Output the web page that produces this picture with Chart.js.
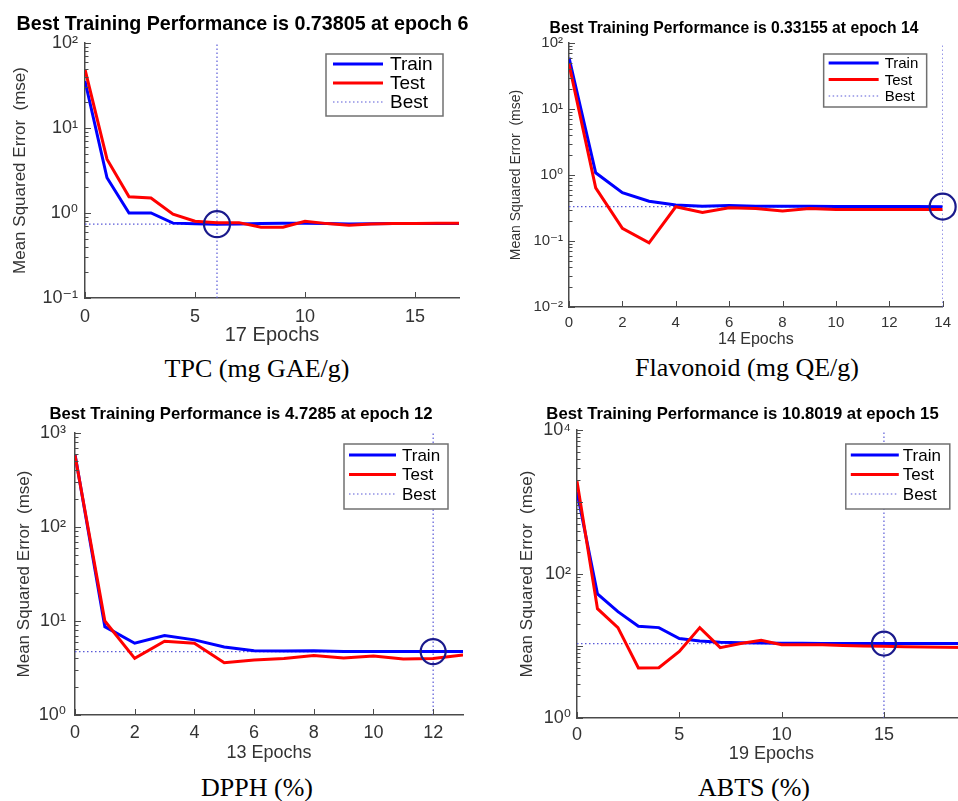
<!DOCTYPE html>
<html>
<head>
<meta charset="utf-8">
<script src="https://cdn.jsdelivr.net/npm/chart.js@4.4.1/dist/chart.umd.min.js"></script>
<style>
  html, body { margin: 0; padding: 0; background: #fff; }
  body { width: 958px; height: 801px; overflow: hidden; position: relative; }
  canvas { position: absolute; }
  .cap { position: absolute; width: 400px; text-align: center; font-family: 'Liberation Serif', 'Times New Roman', serif; font-size: 26px; line-height: 26px; color: #000; white-space: nowrap; }
</style>
</head>
<body>
<canvas id="c1" width="480" height="352" style="left:0px;top:0px;"></canvas>
<canvas id="c2" width="478" height="352" style="left:480px;top:0px;"></canvas>
<canvas id="c3" width="480" height="372" style="left:0px;top:395px;"></canvas>
<canvas id="c4" width="500" height="372" style="left:480px;top:395px;"></canvas>
<div class="cap" style="left:57px;top:356px;">TPC (mg GAE/g)</div>
<div class="cap" style="left:547px;top:355px;">Flavonoid (mg QE/g)</div>
<div class="cap" style="left:57px;top:775px;">DPPH (%)</div>
<div class="cap" style="left:554px;top:775px;">ABTS (%)</div>
<script>
// ---------------- DATA ----------------
const seriesNames = ['Train', 'Test', 'Best'];

// TPC (mg GAE/g): epochs 0..17
const tpcTrain = [35.7, 2.6, 1.0, 1.0, 0.76, 0.745, 0.738, 0.74, 0.75, 0.76, 0.76, 0.75, 0.74, 0.745, 0.75, 0.75, 0.75, 0.75];
const tpcTest  = [49, 4.3, 1.55, 1.5, 0.97, 0.80, 0.77, 0.77, 0.68, 0.68, 0.80, 0.75, 0.72, 0.74, 0.75, 0.75, 0.76, 0.76];
const tpcBestEpoch = 6;
const tpcBestValue = 0.73805;

// Flavonoid (mg QE/g): epochs 0..14
const flavTrain = [60, 1.08, 0.54, 0.40, 0.35, 0.335, 0.345, 0.335, 0.335, 0.335, 0.333, 0.333, 0.332, 0.332, 0.33155];
const flavTest  = [48, 0.64, 0.155, 0.094, 0.33, 0.27, 0.32, 0.31, 0.285, 0.31, 0.30, 0.30, 0.30, 0.30, 0.30];
const flavBestEpoch = 14;
const flavBestValue = 0.33155;

// DPPH (%): epochs 0..13
const dpphTrain = [593, 8.7, 5.8, 7.0, 6.3, 5.3, 4.83, 4.8, 4.82, 4.75, 4.75, 4.74, 4.7285, 4.73];
const dpphTest  = [580, 10, 4.0, 6.1, 5.8, 3.6, 3.85, 4.0, 4.3, 4.05, 4.25, 3.95, 4.0, 4.35];
const dpphBestEpoch = 12;
const dpphBestValue = 4.7285;

// ABTS (%): epochs 0..19
const abtsTrain = [1380, 53, 30, 18.8, 18, 12.7, 11.7, 11.3, 11.1, 11.0, 10.95, 10.9, 10.85, 10.85, 10.82, 10.8019, 10.8, 10.8, 10.8, 10.8];
const abtsTest  = [1940, 33, 18, 4.95, 5.0, 8.4, 18, 9.5, 10.8, 12, 10.4, 10.4, 10.4, 10.2, 10.0, 9.9, 9.8, 9.7, 9.6, 9.5];
const abtsBestEpoch = 15;
const abtsBestValue = 10.8019;

// titles / labels
const titles = [
  'Best Training Performance is 0.73805 at epoch 6',
  'Best Training Performance is 0.33155 at epoch 14',
  'Best Training Performance is 4.7285 at epoch 12',
  'Best Training Performance is 10.8019 at epoch 15'
];
const xTitles = ['17 Epochs', '14 Epochs', '13 Epochs', '19 Epochs'];
const yTitle = 'Mean Squared Error  (mse)';

// ---------------- HELPERS ----------------
const SANS = "'Liberation Sans', Arial, 'DejaVu Sans', sans-serif";
const SUP = {'-': '\u207B', '0': '\u2070', '1': '\u00B9', '2': '\u00B2', '3': '\u00B3', '4': '\u2074'};
function supStr(n) { return String(n).split('').map(c => SUP[c]).join(''); }
const toPts = arr => arr.map((v, i) => ({x: i, y: v}));
const AXIS = '#4a4a4a';

// Title drawn at a chosen centre (MATLAB centres over the axes box)
const panelTitle = {
  id: 'panelTitle',
  afterDraw(chart, args, o) {
    const ctx = chart.ctx;
    ctx.save();
    ctx.font = 'bold ' + o.fs + 'px ' + SANS;
    ctx.fillStyle = '#000';
    ctx.textAlign = 'center';
    ctx.textBaseline = 'middle';
    ctx.fillText(o.text, o.cx, o.cy);
    ctx.restore();
  }
};

// MATLAB-style inward tick marks
const innerTicks = {
  id: 'innerTicks',
  afterDatasetsDraw(chart) {
    const ctx = chart.ctx, a = chart.chartArea;
    const xs = chart.scales.x, ys = chart.scales.y;
    ctx.save();
    ctx.strokeStyle = AXIS;
    ctx.lineWidth = 1;
    ctx.beginPath();
    ys.ticks.forEach(t => {
      const e = Math.log10(t.value);
      const major = Math.abs(e - Math.round(e)) < 1e-6;
      const y = Math.round(ys.getPixelForValue(t.value)) + 0.5;
      ctx.moveTo(a.left, y); ctx.lineTo(a.left + (major ? 6 : 3.5), y);
    });
    xs.ticks.forEach(t => {
      const x = Math.round(xs.getPixelForValue(t.value)) + 0.5;
      ctx.moveTo(x, a.bottom); ctx.lineTo(x, a.bottom - 6);
    });
    ctx.stroke();
    ctx.restore();
  }
};

const insideLegend = {
  id: 'insideLegend',
  afterDatasetsDraw(chart, args, o) {
    const ctx = chart.ctx, a = chart.chartArea;
    const bx = a.right - o.right - o.w, by = a.top + o.top;
    ctx.save();
    ctx.fillStyle = '#fff';
    ctx.fillRect(bx, by, o.w, o.h);
    ctx.strokeStyle = '#707070';
    ctx.lineWidth = 1.5;
    ctx.strokeRect(bx, by, o.w, o.h);
    const styles = [
      {c: '#0000ff', w: 3, d: []},
      {c: '#ff0000', w: 3, d: []},
      {c: '#5a5ad8', w: 1.2, d: [1.5, 2.5]}
    ];
    ctx.font = o.fs + 'px ' + SANS;
    ctx.textBaseline = 'middle';
    ctx.textAlign = 'left';
    seriesNames.forEach((name, i) => {
      const y = by + o.first + i * o.row;
      const s = styles[i];
      ctx.beginPath();
      ctx.strokeStyle = s.c; ctx.lineWidth = s.w; ctx.setLineDash(s.d);
      ctx.moveTo(bx + o.ls, y); ctx.lineTo(bx + o.ls + o.ll, y);
      ctx.stroke();
      ctx.setLineDash([]);
      ctx.fillStyle = '#000';
      ctx.fillText(name, bx + o.ts, y + 1);
    });
    ctx.restore();
  }
};

function makeChart(id, cfg) {
  const yLo = cfg.yLo, yHi = cfg.yHi;
  const datasets = [
    {label: 'Train', data: toPts(cfg.train), borderColor: '#0000ff', borderWidth: 3, pointRadius: 0, order: 2},
    {label: 'Test', data: toPts(cfg.test), borderColor: '#ff0000', borderWidth: 3, pointRadius: 0, order: 1},
    {label: 'BestH', data: [{x: 0, y: cfg.bestValue}, {x: cfg.bestEpoch, y: cfg.bestValue}], borderColor: '#5a5ad8', borderWidth: 1.2, borderDash: [1.5, 2.5], pointRadius: 0, order: 3},
    {label: 'BestV', data: [{x: cfg.bestEpoch, y: Math.pow(10, yLo)}, {x: cfg.bestEpoch, y: Math.pow(10, yHi)}], borderColor: '#5a5ad8', borderWidth: 1.2, borderDash: [1.5, 2.5], pointRadius: 0, order: 3},
    {label: 'Circle', type: 'scatter', data: [{x: cfg.bestEpoch, y: cfg.bestValue}], pointRadius: cfg.circR, pointBorderWidth: 2.2, pointBorderColor: '#1a1a8c', pointBackgroundColor: 'rgba(0,0,0,0)', clip: false, order: 0}
  ];
  return new Chart(document.getElementById(id), {
    type: 'line',
    data: {datasets},
    plugins: [innerTicks, insideLegend, panelTitle],
    options: {
      responsive: false, animation: false, devicePixelRatio: 1,
      layout: {padding: {left: 0, right: cfg.padR, top: cfg.padT, bottom: 0}},
      elements: {line: {tension: 0}},
      plugins: {
        legend: {display: false},
        tooltip: {enabled: false},
        title: {display: false},
        panelTitle: {text: cfg.title, fs: cfg.titleFs, cx: cfg.titleX, cy: cfg.titleY},
        insideLegend: cfg.legend
      },
      scales: {
        x: {
          type: 'linear', min: 0, max: cfg.xMax,
          ticks: {stepSize: cfg.xStep, includeBounds: false, color: '#333', font: {family: SANS, size: cfg.tickFs}, padding: cfg.xTickPad, maxRotation: 0},
          grid: {display: false, drawTicks: false},
          border: {display: true, color: AXIS, width: 1.5},
          title: {display: true, text: cfg.xTitle, color: '#333', font: {family: SANS, size: cfg.xTitleFs}, padding: {top: 0, bottom: cfg.xTitlePb}},
          afterFit: s => { s.height = cfg.xH; }
        },
        y: {
          type: 'logarithmic', min: Math.pow(10, yLo), max: Math.pow(10, yHi),
          afterBuildTicks: s => {
            const t = [];
            for (let e = yLo; e < yHi; e++) for (let m = 1; m < 10; m++) t.push({value: m * Math.pow(10, e)});
            t.push({value: Math.pow(10, yHi)});
            s.ticks = t;
          },
          ticks: {
            autoSkip: false, color: '#333', font: {family: SANS, size: cfg.tickFs}, padding: cfg.yTickPad,
            callback: v => {
              const e = Math.log10(v), r = Math.round(e);
              if (Math.abs(e - r) > 1e-6) return '';
              if (r % cfg.yLabStep !== 0) return '';
              return '10' + supStr(r);
            }
          },
          grid: {display: false, drawTicks: false},
          border: {display: true, color: AXIS, width: 1.5},
          title: {display: true, text: yTitle, color: '#333', font: {family: SANS, size: cfg.yTitleFs}, padding: {top: cfg.yTitlePt, bottom: 0}},
          afterFit: s => { s.width = cfg.yW; }
        }
      }
    }
  });
}

makeChart('c1', {
  train: tpcTrain, test: tpcTest, bestEpoch: tpcBestEpoch, bestValue: tpcBestValue,
  yLo: -1, yHi: 2, yLabStep: 1, xMax: 17, xStep: 5, circR: 13,
  title: titles[0], titleFs: 19.7, titleX: 242.5, titleY: 25, padT: 43,
  tickFs: 18, xTickPad: 8, yTickPad: 7,
  xTitle: xTitles[0], xTitleFs: 20, xTitlePb: 5, xH: 54,
  yTitleFs: 17, yTitlePt: 10, yW: 85, padR: 21,
  legend: {right: 16, top: 11, w: 117, h: 62, first: 10, row: 19, ls: 7, ll: 50, ts: 64, fs: 19}
});
makeChart('c2', {
  train: flavTrain, test: flavTest, bestEpoch: flavBestEpoch, bestValue: flavBestValue,
  yLo: -2, yHi: 2, yLabStep: 1, xMax: 14, xStep: 2, circR: 13,
  title: titles[1], titleFs: 15.7, titleX: 254, titleY: 29, padT: 43,
  tickFs: 15, xTickPad: 7, yTickPad: 6,
  xTitle: xTitles[1], xTitleFs: 16, xTitlePb: 3, xH: 45,
  yTitleFs: 14, yTitlePt: 28, yW: 89, padR: 15,
  legend: {right: 16, top: 11, w: 103, h: 53, first: 9, row: 16.5, ls: 5, ll: 50, ts: 61, fs: 15}
});
makeChart('c3', {
  train: dpphTrain, test: dpphTest, bestEpoch: dpphBestEpoch, bestValue: dpphBestValue,
  yLo: 0, yHi: 3, yLabStep: 1, xMax: 13, xStep: 2, circR: 12.5,
  title: titles[2], titleFs: 16.7, titleX: 241, titleY: 19, padT: 38,
  tickFs: 18, xTickPad: 7, yTickPad: 9,
  xTitle: xTitles[2], xTitleFs: 18, xTitlePb: 3, xH: 52,
  yTitleFs: 17, yTitlePt: 14, yW: 75, padR: 17,
  legend: {right: 15, top: 11, w: 104, h: 65, first: 11, row: 19.5, ls: 5, ll: 47, ts: 58, fs: 17}
});
makeChart('c4', {
  train: abtsTrain, test: abtsTest, bestEpoch: abtsBestEpoch, bestValue: abtsBestValue,
  yLo: 0, yHi: 4, yLabStep: 2, xMax: 19, xStep: 5, circR: 12,
  title: titles[3], titleFs: 16.7, titleX: 262.5, titleY: 19, padT: 35,
  tickFs: 18, xTickPad: 6, yTickPad: 6,
  xTitle: xTitles[3], xTitleFs: 18, xTitlePb: 2, xH: 49,
  yTitleFs: 17, yTitlePt: 37, yW: 97, padR: 12,
  legend: {right: 16, top: 14, w: 104, h: 65, first: 11, row: 19.5, ls: 5, ll: 48, ts: 57, fs: 17}
});
</script>
</body>
</html>
